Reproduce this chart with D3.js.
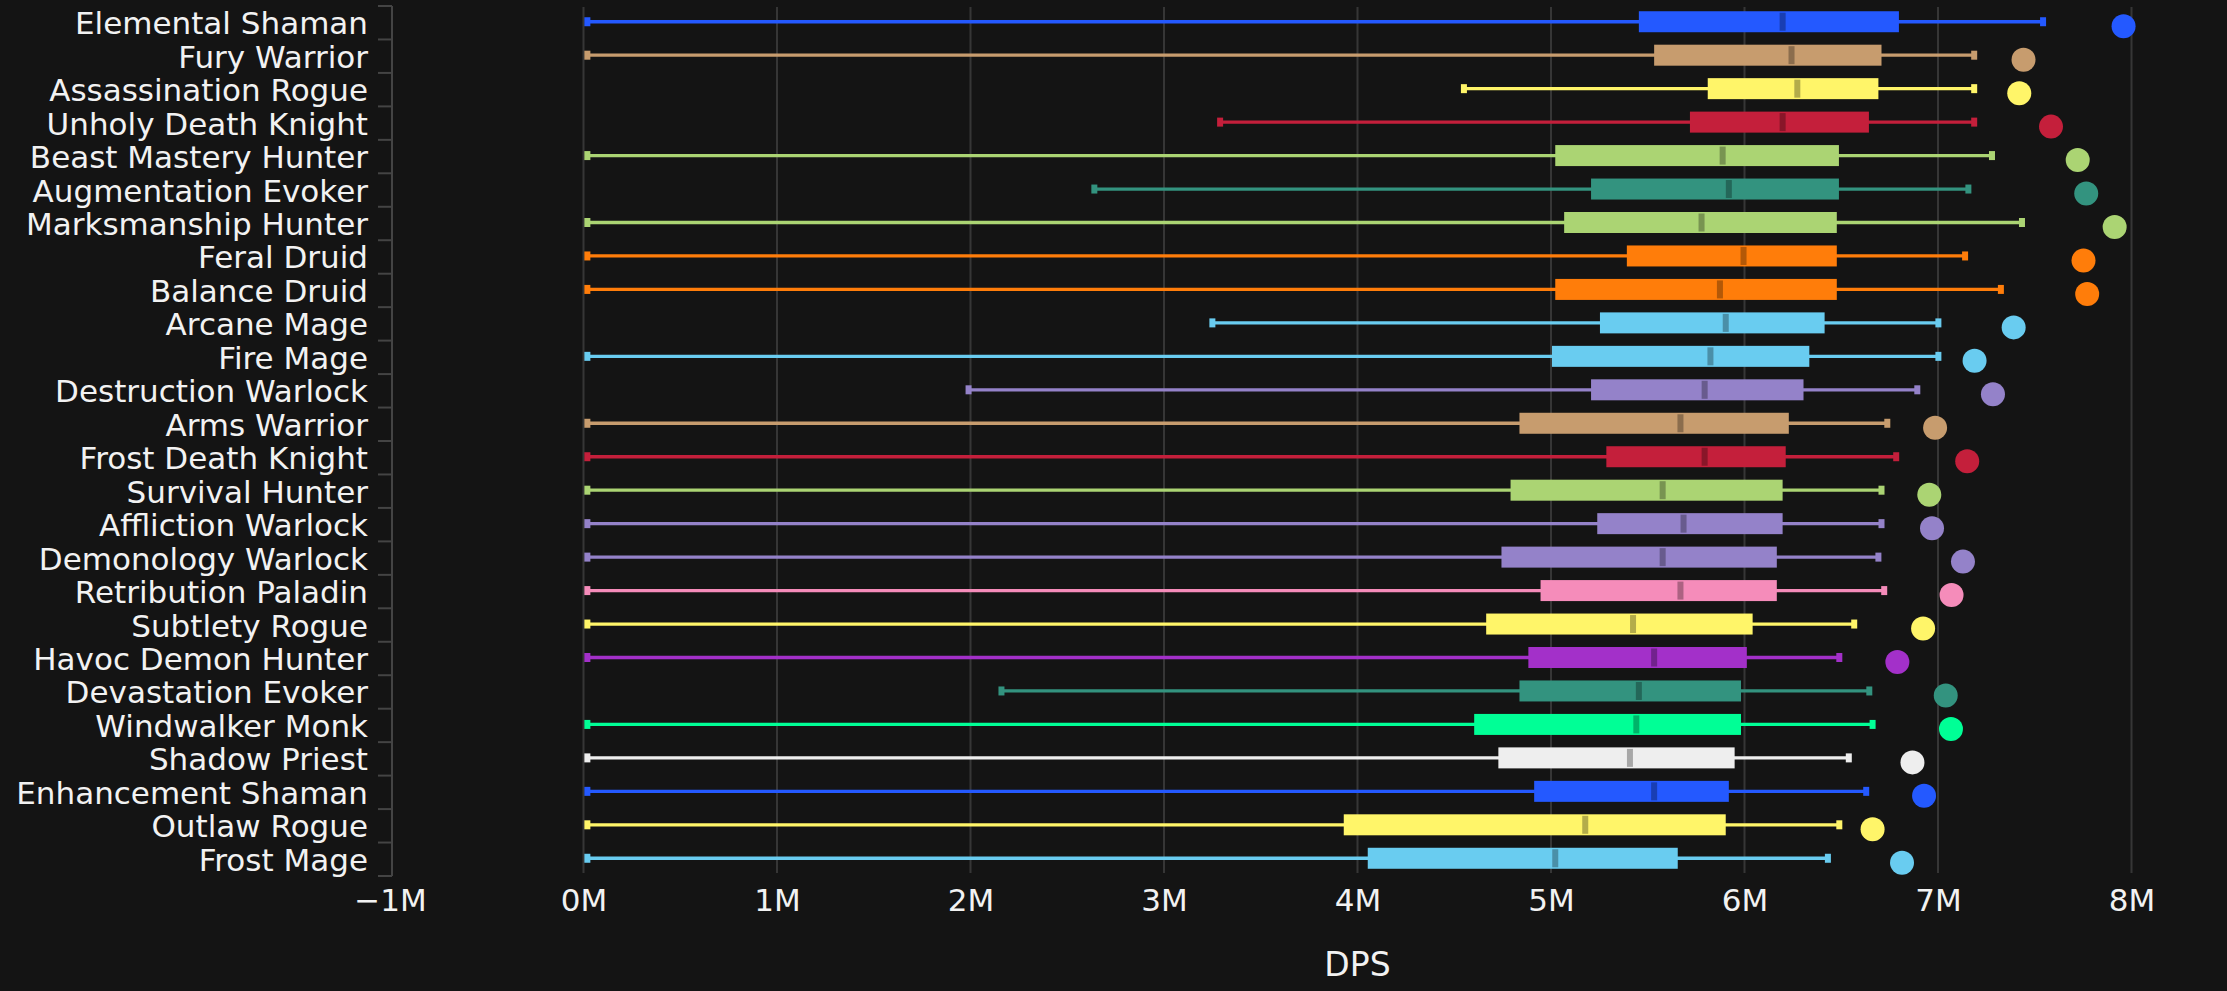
<!DOCTYPE html>
<html lang="en">
<head>
  <meta charset="UTF-8">
  <title>DPS by spec</title>
  <script src="https://cdn.jsdelivr.net/npm/d3@7/dist/d3.min.js"></script>
  <style>
    body {
      margin: 0;
      background: #141414;
      overflow: hidden;
    }

    svg {
      display: block;
      font-family: 'DejaVu Sans', sans-serif;
    }

    .grid line {
      stroke: #363636;
      stroke-width: 2;
    }

    .label {
      fill: #f2f2f2;
    }
  </style>
</head>
<body>
  <svg id="chart"></svg>

  <script>
    const specs = [
      "Elemental Shaman", "Fury Warrior", "Assassination Rogue", "Unholy Death Knight",
      "Beast Mastery Hunter", "Augmentation Evoker", "Marksmanship Hunter", "Feral Druid",
      "Balance Druid", "Arcane Mage", "Fire Mage", "Destruction Warlock", "Arms Warrior",
      "Frost Death Knight", "Survival Hunter", "Affliction Warlock", "Demonology Warlock",
      "Retribution Paladin", "Subtlety Rogue", "Havoc Demon Hunter", "Devastation Evoker",
      "Windwalker Monk", "Shadow Priest", "Enhancement Shaman", "Outlaw Rogue", "Frost Mage"
    ];

    const colors = [
      "#2459ff", "#c79c6e", "#fff569", "#c41f3b",
      "#abd473", "#33937f", "#abd473", "#ff7d0a",
      "#ff7d0a", "#69ccf0", "#69ccf0", "#9482c9", "#c79c6e",
      "#c41f3b", "#abd473", "#9482c9", "#9482c9",
      "#f58cba", "#fff569", "#a330c9", "#33937f",
      "#00ff96", "#eeeeee", "#2459ff", "#fff569", "#69ccf0"
    ];

    // values in millions of DPS
    const low = [0.02, 0.02, 4.55, 3.29, 0.02, 2.64, 0.02, 0.02, 0.02, 3.25, 0.02, 1.99, 0.02,
      0.02, 0.02, 0.02, 0.02, 0.02, 0.02, 0.02, 2.16, 0.02, 0.02, 0.02, 0.02, 0.02];
    const q1 = [5.454, 5.533, 5.810, 5.718, 5.022, 5.207, 5.068, 5.392, 5.022, 5.253, 5.005, 5.207, 4.837,
      5.286, 4.791, 5.239, 4.744, 4.946, 4.665, 4.883, 4.837, 4.603, 4.728, 4.913, 3.929, 4.053];
    const median = [6.197, 6.243, 6.273, 6.197, 5.887, 5.919, 5.778, 5.995, 5.873, 5.903, 5.824, 5.794, 5.669,
      5.794, 5.577, 5.685, 5.577, 5.669, 5.424, 5.533, 5.454, 5.441, 5.408, 5.533, 5.177, 5.022];
    const q3 = [6.798, 6.708, 6.692, 6.643, 6.488, 6.488, 6.477, 6.477, 6.477, 6.414, 6.335, 6.305, 6.229,
      6.213, 6.197, 6.197, 6.167, 6.167, 6.042, 6.012, 5.982, 5.982, 5.949, 5.919, 5.903, 5.655];
    const high = [7.543, 7.187, 7.187, 7.187, 7.279, 7.157, 7.434, 7.140, 7.325, 7.002, 7.002, 6.893, 6.738,
      6.784, 6.708, 6.708, 6.692, 6.722, 6.567, 6.490, 6.645, 6.662, 6.539, 6.629, 6.490, 6.431];
    const best = [7.959, 7.442, 7.420, 7.584, 7.722, 7.766, 7.913, 7.752, 7.771, 7.391, 7.189, 7.284, 6.985,
      7.151, 6.955, 6.969, 7.129, 7.070, 6.923, 6.790, 7.040, 7.067, 6.868, 6.928, 6.662, 6.814];

    const xTicks = [-1, 0, 1, 2, 3, 4, 5, 6, 7, 8];

    const width = 2227;
    const height = 991;

    const rows = specs.map((name, i) => ({
      name, color: colors[i], low: low[i], q1: q1[i], median: median[i],
      q3: q3[i], high: high[i], best: best[i]
    }));

    const svg = d3.select("#chart")
      .attr("width", width)
      .attr("height", height);

    const x = d3.scaleLinear().domain([-1, 8]).range([390, 2131.5]);
    const y = d3.scaleBand().domain(specs).range([6, 876]);
    const mid = d => y(d) + y.bandwidth() / 2;

    // vertical grid
    svg.append("g")
      .attr("class", "grid")
      .selectAll("line")
      .data(xTicks.filter(t => t >= 0))
      .join("line")
      .attr("x1", d => x(d))
      .attr("x2", d => x(d))
      .attr("y1", 7)
      .attr("y2", 873);

    // category axis line and boundary ticks
    const yAxis = svg.append("g");
    yAxis.append("line")
      .attr("x1", x(-1) + 2).attr("x2", x(-1) + 2)
      .attr("y1", y.range()[0]).attr("y2", y.range()[1])
      .attr("stroke", "#444").attr("stroke-width", 2);
    yAxis.selectAll(".btick")
      .data(d3.range(specs.length + 1))
      .join("line")
      .attr("class", "btick")
      .attr("x1", x(-1) - 12).attr("x2", x(-1) + 2)
      .attr("y1", i => y.range()[0] + i * y.step())
      .attr("y2", i => y.range()[0] + i * y.step())
      .attr("stroke", "#444").attr("stroke-width", 2);

    yAxis.selectAll(".label")
      .data(specs)
      .join("text")
      .attr("class", "label")
      .attr("x", 368)
      .attr("y", d => mid(d) + 11.5)
      .attr("text-anchor", "end")
      .attr("font-size", 31)
      .text(d => d);

    // x axis labels
    const xAxis = d3.axisBottom(x)
      .tickValues(xTicks)
      .tickSize(0)
      .tickFormat(d => (d < 0 ? "\u2212" + Math.abs(d) : d) + "M");

    svg.append("g")
      .attr("transform", "translate(0,886)")
      .call(xAxis)
      .call(g => g.select(".domain").remove())
      .call(g => g.selectAll("text")
        .attr("fill", "#f2f2f2")
        .attr("font-size", 31)
        .attr("font-family", "'DejaVu Sans', sans-serif"));

    svg.append("text")
      .attr("class", "label")
      .attr("x", (x(0) + x(8)) / 2)
      .attr("y", 976)
      .attr("text-anchor", "middle")
      .attr("font-size", 33)
      .text("DPS");

    // box plots
    const boxes = svg.append("g")
      .selectAll("g")
      .data(rows)
      .join("g")
      .attr("transform", d => `translate(0,${mid(d.name) - 1})`);

    boxes.append("line")
      .attr("x1", d => x(d.low))
      .attr("x2", d => x(d.high))
      .attr("stroke", d => d.color)
      .attr("stroke-width", 3.3);

    boxes.append("rect")
      .attr("x", d => x(d.low) - 3)
      .attr("y", -4.5)
      .attr("width", 6)
      .attr("height", 9)
      .attr("fill", d => d.color);

    boxes.append("rect")
      .attr("x", d => x(d.high) - 3)
      .attr("y", -4.5)
      .attr("width", 6)
      .attr("height", 9)
      .attr("fill", d => d.color);

    boxes.append("rect")
      .attr("x", d => x(d.q1))
      .attr("y", -10.5)
      .attr("width", d => x(d.q3) - x(d.q1))
      .attr("height", 21)
      .attr("fill", d => d.color);

    boxes.append("rect")
      .attr("x", d => x(d.median) - 3)
      .attr("y", -9)
      .attr("width", 6)
      .attr("height", 18)
      .attr("fill", d => d3.color(d.color).darker(1));

    boxes.append("circle")
      .attr("cx", d => x(d.best))
      .attr("cy", 4.5)
      .attr("r", 12)
      .attr("fill", d => d.color);
  </script>
</body>
</html>
